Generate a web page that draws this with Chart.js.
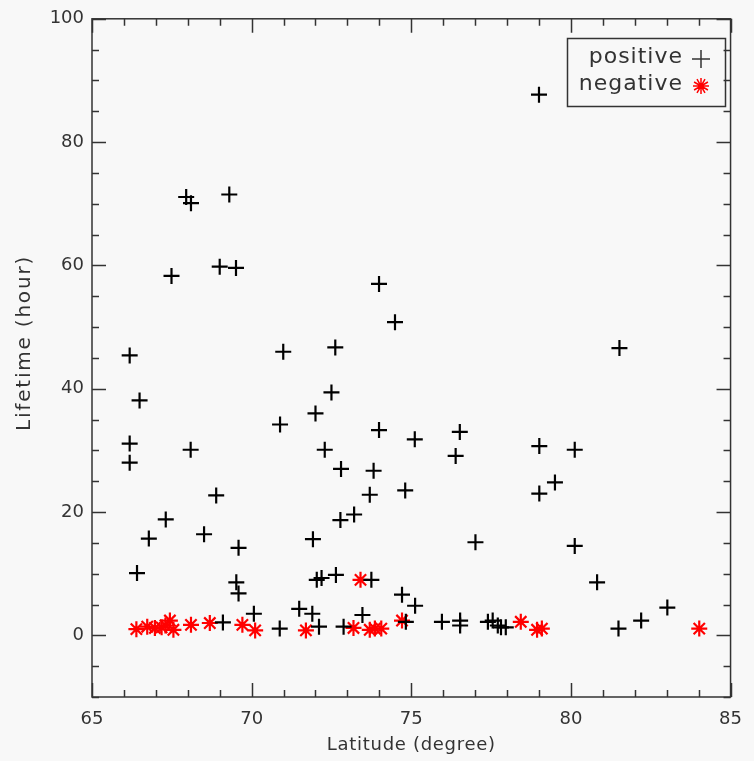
<!DOCTYPE html>
<html>
<head>
<meta charset="utf-8">
<script src="https://cdn.jsdelivr.net/npm/chart.js@4"></script>
<style>
  body{margin:0;background:#f8f8f8;}
  canvas{display:block;}
</style>
</head>
<body>
<canvas id="grafico" width="754" height="761"></canvas>
<script>
// datos
var latPos=[67.95,68.10,69.30,67.49,69.00,69.51,66.18,70.99,66.49,73.99,
            74.49,72.62,72.50,72.00,73.99,75.11,76.52,76.39,72.29,72.80,
            73.82,66.18,66.18,68.09,70.89,68.89,67.31,66.78,68.51,69.59,
            66.41,69.52,69.59,70.07,69.10,70.88,71.49,73.70,74.81,72.78,
            73.21,71.92,77.01,72.04,72.19,72.64,73.75,71.90,72.11,74.71,
            75.12,73.47,72.88,75.96,76.53,76.53,77.40,77.55,77.81,74.83,
            79.01,80.12,79.50,79.01,80.12,80.82,81.49,82.20,83.02,77.71,
            77.96,81.52,79.00];
var vidaPos=[71.1,70.1,71.5,58.3,59.8,59.6,45.4,46.0,38.1,57.0,
             50.8,46.7,39.4,36.0,33.3,31.8,33.0,29.1,30.1,27.0,
             26.7,31.1,28.0,30.1,34.2,22.7,18.8,15.7,16.4,14.2,
             10.1,8.6,6.8,3.5,2.1,1.1,4.3,22.8,23.5,18.7,
             19.6,15.6,15.1,9.0,9.3,9.8,9.0,3.5,1.4,6.6,
             4.8,3.3,1.4,2.2,2.4,1.6,2.2,2.4,1.3,2.2,
             30.7,30.1,24.8,23.0,14.5,8.6,1.1,2.4,4.5,1.6,
             1.3,46.6,87.7];
var latNeg=[66.39,66.73,66.97,67.18,67.44,67.55,67.30,68.10,68.69,69.71,
            70.11,71.70,73.41,73.19,73.70,73.86,74.06,74.71,78.43,78.94,
            79.09,84.02];
var vidaNeg=[1.0,1.4,1.2,1.3,2.4,0.9,1.6,1.7,2.0,1.7,
             0.8,0.8,9.0,1.2,0.9,1.1,1.1,2.4,2.2,0.9,
             1.1,1.1];
var ticksX=[65,70,75,80,85];
var ticksY=[0,20,40,60,80,100];
var etiquetas=["positive","negative"];
var tituloX="Latitude (degree)";
var tituloY="Lifetime (hour)";

function puntos(xs,ys){
  var arr=new Array();
  for(var i=0;i<xs.length;i++){ arr[i]={x:xs[i],y:ys[i]}; }
  return arr;
}

var fuente="'DejaVu Sans', sans-serif";
var gris="#333";

// fondo, marco y marcas hacia dentro
var marco={
  id:'marco',
  beforeDraw:function(chart){
    var ctx=chart.ctx;
    ctx.save();
    ctx.fillStyle="#f8f8f8";
    ctx.fillRect(0,0,chart.width,chart.height);
    ctx.restore();
  },
  afterDatasetsDraw:function(chart){
    var ctx=chart.ctx, a=chart.chartArea;
    var sx=chart.scales.x, sy=chart.scales.y;
    ctx.save();
    ctx.strokeStyle=gris;
    ctx.lineWidth=1.5;
    ctx.strokeRect(a.left,a.top,a.right-a.left,a.bottom-a.top);
    ctx.beginPath();
    for(var v=65;v<=85;v++){
      var px=Math.round(sx.getPixelForValue(v))+0.5;
      var l=(v%5==0)?14:7;
      ctx.moveTo(px,a.bottom); ctx.lineTo(px,a.bottom-l);
      ctx.moveTo(px,a.top); ctx.lineTo(px,a.top+l);
    }
    for(var w=-10;w<=100;w+=5){
      var py=Math.round(sy.getPixelForValue(w))+0.5;
      var m=(w%20==0)?14:7;
      ctx.moveTo(a.left,py); ctx.lineTo(a.left+m,py);
      ctx.moveTo(a.right,py); ctx.lineTo(a.right-m,py);
    }
    ctx.stroke();

    // titulos de ejes
    ctx.fillStyle=gris;
    ctx.textAlign="center";
    ctx.textBaseline="middle";
    ctx.font="18px "+fuente;
    ctx.letterSpacing="0.7px";
    ctx.fillText(tituloX,(a.left+a.right)/2,745);
    ctx.translate(25,343);
    ctx.rotate(-Math.PI/2);
    ctx.font="20px "+fuente;
    ctx.letterSpacing="1.8px";
    ctx.fillText(tituloY,0,0);
    ctx.restore();
  }
};

// leyenda con caja
var leyenda={
  id:'leyenda',
  afterDraw:function(chart){
    var ctx=chart.ctx;
    ctx.save();
    ctx.strokeStyle=gris;
    ctx.lineWidth=1.5;
    ctx.strokeRect(567.5,38.5,158,68);
    ctx.font="22px "+fuente;
    ctx.letterSpacing="1px";
    ctx.fillStyle=gris;
    ctx.textAlign="right";
    ctx.textBaseline="middle";
    ctx.fillText(etiquetas[0],683,57);
    ctx.fillText(etiquetas[1],683,84);
    ctx.lineWidth=1.5;
    ctx.strokeStyle=gris;
    ctx.beginPath();
    ctx.moveTo(692,59); ctx.lineTo(710,59);
    ctx.moveTo(701,50); ctx.lineTo(701,68);
    ctx.stroke();
    ctx.strokeStyle="#ff0000";
    ctx.beginPath();
    for(var k=0;k<6;k++){
      var ang=k*Math.PI/6+Math.PI/2;
      ctx.moveTo(701,86); ctx.lineTo(701+8*Math.cos(ang),86+8*Math.sin(ang));
      ctx.moveTo(701,86); ctx.lineTo(701-8*Math.cos(ang),86-8*Math.sin(ang));
    }
    ctx.stroke();
    ctx.restore();
  }
};

var grafico=new Chart(document.getElementById("grafico"),{
  type:'scatter',
  data:{
    datasets:[
      {
        label:etiquetas[0],
        data:puntos(latPos,vidaPos),
        pointStyle:'cross',
        radius:8,
        borderWidth:2.2,
        borderColor:'#000',
        backgroundColor:'#000'
      },
      {
        label:etiquetas[1],
        data:puntos(latNeg,vidaNeg),
        pointStyle:'star',
        radius:8,
        borderWidth:2.2,
        borderColor:'#ff0000',
        backgroundColor:'#ff0000'
      }
    ]
  },
  options:{
    responsive:false,
    devicePixelRatio:1,
    animation:false,
    layout:{padding:{top:12,right:13,left:0,bottom:0}},
    plugins:{legend:{display:false},tooltip:{enabled:false}},
    scales:{
      x:{
        type:'linear',min:65,max:85,
        afterBuildTicks:function(s){ s.ticks=ticksX.map(function(v){return {value:v};}); },
        afterFit:function(s){ s.height=64; },
        grid:{display:false,drawTicks:false},
        border:{display:false},
        ticks:{color:gris,font:{family:fuente,size:18},padding:12,maxRotation:0},
        title:{display:false}
      },
      y:{
        type:'linear',min:-10,max:100,
        afterBuildTicks:function(s){ s.ticks=ticksY.map(function(v){return {value:v};}); },
        afterFit:function(s){ s.width=92; },
        grid:{display:false,drawTicks:false},
        border:{display:false},
        ticks:{color:gris,font:{family:fuente,size:18},padding:8},
        title:{display:false}
      }
    }
  },
  plugins:[marco,leyenda]
});
</script>
</body>
</html>
